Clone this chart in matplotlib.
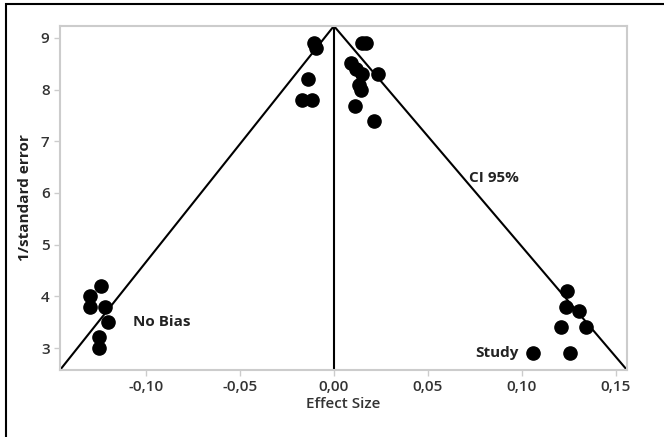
import matplotlib.pyplot as plt
from matplotlib.patches import Rectangle

plt.rcParams['font.family'] = ['Open Sans', 'DejaVu Sans']

# study points (effect size, 1/standard error)
effect = [-0.124, -0.130, -0.130, -0.122, -0.120, -0.125, -0.125,
          0.1238, 0.1234, 0.1303, 0.1207, 0.1339, 0.1057, 0.1255,
          -0.0106, -0.0096, -0.0137, -0.0169, -0.0119,
          0.0151, 0.0169, 0.0090, 0.0117, 0.0152, 0.0236,
          0.0135, 0.0144, 0.0112, 0.0214]
precision = [4.20, 4.01, 3.80, 3.80, 3.51, 3.22, 3.00,
             4.11, 3.79, 3.72, 3.40, 3.40, 2.90, 2.90,
             8.91, 8.80, 8.20, 7.80, 7.80,
             8.91, 8.91, 8.51, 8.40, 8.30, 8.30,
             8.09, 7.99, 7.69, 7.40]

# funnel (CI 95%) and no-bias line
funnel_x = [-0.1457, 0.0, 0.1559]
funnel_y = [2.575, 9.23, 2.575]
nobias_x = [0.0, 0.0]
nobias_y = [2.575, 9.23]

xticks = [-0.10, -0.05, 0.00, 0.05, 0.10, 0.15]
xticklabels = ['-0,10', '-0,05', '0,00', '0,05', '0,10', '0,15']
yticks = [3, 4, 5, 6, 7, 8, 9]

fig = plt.figure(figsize=(6.64, 4.37), dpi=100)
ax = fig.add_axes([60 / 664, 1 - 370 / 437, 567 / 664, 344 / 437])

ax.plot(funnel_x, funnel_y, color='black', lw=1.5, solid_capstyle='butt')
ax.plot(nobias_x, nobias_y, color='black', lw=1.5)
ax.plot(effect, precision, 'o', color='black', ms=9.5, mec='black')

ax.set_xlim(-0.1457, 0.1559)
ax.set_ylim(2.575, 9.23)
ax.set_xticks(xticks)
ax.set_xticklabels(xticklabels)
ax.set_yticks(yticks)

for s in ax.spines.values():
    s.set_color('#cccccc')
    s.set_linewidth(1.5)
ax.tick_params(colors='#cccccc', labelcolor='#333333', labelsize=11, length=4, width=1)
for lbl in ax.get_xticklabels() + ax.get_yticklabels():
    lbl.set_fontweight('semibold')

ax.set_xlabel('Effect Size', fontsize=11, fontweight='semibold', color='#333333', labelpad=2)
ax.set_ylabel('1/standard error', fontsize=11, fontweight='bold', color='#222222', labelpad=6)

ax.text(-0.107, 3.5, 'No Bias', fontsize=11, fontweight='bold', color='#222222', va='center')
ax.text(0.072, 6.29, 'CI 95%', fontsize=11, fontweight='bold', color='#222222', va='center')
ax.text(0.098, 2.9, 'Study', fontsize=11, fontweight='bold', color='#222222', va='center', ha='right')

# outer frame of the figure
fig.patches.append(Rectangle((6 / 664, -0.1), 1.2, 1 - 4 / 437 + 0.1,
                             transform=fig.transFigure, fill=False,
                             edgecolor='black', lw=1.5))

fig.savefig('out.png', dpi=100)
